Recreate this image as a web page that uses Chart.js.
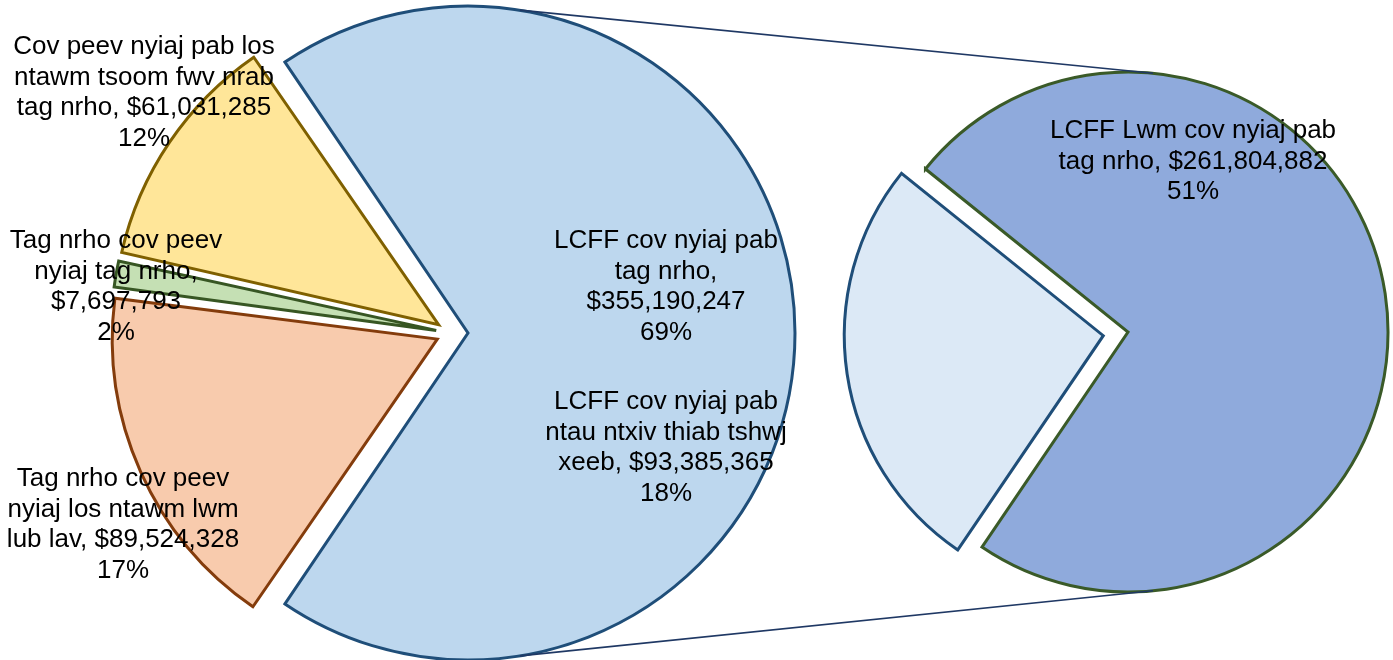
<!DOCTYPE html>
<html><head><meta charset="utf-8">
<script src="https://cdn.jsdelivr.net/npm/chart.js@4.4.1/dist/chart.umd.min.js"></script>
<style>
html,body{margin:0;padding:0;background:#fff;}
#wrap{position:relative;width:1393px;height:660px;background:#fff;}
#wrap canvas{position:absolute;left:0;top:0;}
</style></head><body>
<div id="wrap"><canvas id="mainPie" width="1393" height="660"></canvas><canvas id="detailPie" width="1393" height="660"></canvas></div>
<script>
// ---- data ----
const mainCategories = [
  'LCFF cov nyiaj pab tag nrho',
  'Tag nrho cov peev nyiaj los ntawm lwm lub lav',
  'Tag nrho cov peev nyiaj tag nrho',
  'Cov peev nyiaj pab los ntawm tsoom fwv nrab tag nrho'
];
const mainValues = [355190247, 89524328, 7697793, 61031285];
const mainPercents = ['69%', '17%', '2%', '12%'];

const detailCategories = [
  'LCFF cov nyiaj pab ntau ntxiv thiab tshwj xeeb',
  'LCFF Lwm cov nyiaj pab tag nrho'
];
const detailValues = [93385365, 261804882];
const detailPercents = ['18%', '51%'];

// label line wrapping ({v} = value, {p} = percent)
const mainLabelLines = [
  ['LCFF cov nyiaj pab', 'tag nrho,', '{v}', '{p}'],
  ['Tag nrho cov peev', 'nyiaj los ntawm lwm', 'lub lav, {v}', '{p}'],
  ['Tag nrho cov peev', 'nyiaj tag nrho,', '{v}', '{p}'],
  ['Cov peev nyiaj pab los', 'ntawm tsoom fwv nrab', 'tag nrho, {v}', '{p}']
];
const detailLabelLines = [
  ['LCFF cov nyiaj pab', 'ntau ntxiv thiab tshwj', 'xeeb, {v}', '{p}'],
  ['LCFF Lwm cov nyiaj pab', 'tag nrho, {v}', '{p}']
];

// ---- layout / style ----
const mainLabelPos = [[666, 241], [123, 479], [116, 241], [144, 47]];
const detailLabelPos = [[666, 402], [1193, 131]];
const mainFill = ['#BDD7EE', '#F8CBAD', '#C5E0B4', '#FFE699'];
const mainBorder = ['#1F4E79', '#843C0C', '#375623', '#7F6000'];
const mainShift = [17, 15, 15, 15];     // explosion distance in px
const mainRadii = [327, 325, 325, 325];
const detailFill = ['#DCE9F6', '#8FAADC'];
const detailBorder = ['#1F4E79', '#3A5A28'];
const detailShift = [25, 0];
const detailRadii = [259, 260];
const connectorDx = [52, 25];            // where series lines meet the arcs (px right of centre)
const FONT = '26px "Liberation Sans", Arial, sans-serif';
const LINE_H = 30.5;

const sum = a => a.reduce((s, v) => s + v, 0);
const mainRotation = 90 - 180 * mainValues[0] / sum(mainValues);
const detailCenterAngle = 171.5;
const detailRotation = 90 + detailCenterAngle - 180 * detailValues[0] / sum(detailValues);

function fmt(v) { return '$' + v.toLocaleString('en-US'); }
function drawLabel(ctx, lines, value, pct, pos) {
  ctx.save();
  ctx.font = FONT;
  ctx.fillStyle = '#000';
  ctx.textAlign = 'center';
  ctx.textBaseline = 'middle';
  lines.forEach((t, i) => {
    const s = t.replace('{v}', fmt(value)).replace('{p}', pct);
    ctx.fillText(s, pos[0], pos[1] + i * LINE_H);
  });
  ctx.restore();
}

// Chart.js translates an arc by offset/4 and enlarges it by (offset/4)*fix;
// set each arc's radius so the drawn slice has the intended radius.
function radiusFixPlugin(radii) {
  return {
    id: 'radiusFix',
    afterDatasetsUpdate(chart) {
      chart.getDatasetMeta(0).data.forEach((arc, i) => {
        const c = arc.endAngle - arc.startAngle;
        const fix = 1 - Math.sin(Math.min(Math.PI, c));
        const off = (arc.options.offset || 0) / 4;
        arc.outerRadius = radii[i] - off * fix;
      });
    }
  };
}

const baseOpts = {
  responsive: false,
  animation: false,
  events: [],
  plugins: { legend: { display: false }, tooltip: { enabled: false } }
};

const mainChart = new Chart(document.getElementById('mainPie'), {
  type: 'pie',
  data: {
    labels: mainCategories,
    datasets: [{
      data: mainValues,
      backgroundColor: mainFill,
      borderColor: mainBorder,
      borderWidth: 3,
      borderJoinStyle: 'miter',
      offset: mainShift.map(s => s * 4)
    }]
  },
  options: Object.assign({}, baseOpts, {
    rotation: mainRotation,
    radius: 325,
    layout: { padding: { left: 0, right: 491, top: 6, bottom: 0 } }
  }),
  plugins: [radiusFixPlugin(mainRadii)]
});

const overlayPlugin = {
  id: 'overlay',
  afterDraw(chart) {
    const ctx = chart.ctx;
    const la = mainChart.getDatasetMeta(0).data[0];
    const mid = (la.startAngle + la.endAngle) / 2;
    const off = (la.options.offset || 0) / 4;
    const lx = la.x + Math.cos(mid) * off, ly = la.y + Math.sin(mid) * off;
    const lr = mainRadii[0];
    const ra = chart.getDatasetMeta(0).data[1];
    const rr = detailRadii[1];
    const ldy = Math.sqrt(lr * lr - connectorDx[0] * connectorDx[0]);
    const rdy = Math.sqrt(rr * rr - connectorDx[1] * connectorDx[1]);
    ctx.save();
    ctx.strokeStyle = '#1F3864';
    ctx.lineWidth = 1.6;
    ctx.beginPath();
    ctx.moveTo(lx + connectorDx[0], ly - ldy);
    ctx.lineTo(ra.x + connectorDx[1], ra.y - rdy);
    ctx.moveTo(lx + connectorDx[0], ly + ldy);
    ctx.lineTo(ra.x + connectorDx[1], ra.y + rdy);
    ctx.stroke();
    ctx.restore();
    mainValues.forEach((v, i) => drawLabel(ctx, mainLabelLines[i], v, mainPercents[i], mainLabelPos[i]));
    detailValues.forEach((v, i) => drawLabel(ctx, detailLabelLines[i], v, detailPercents[i], detailLabelPos[i]));
  }
};

const detailChart = new Chart(document.getElementById('detailPie'), {
  type: 'pie',
  data: {
    labels: detailCategories,
    datasets: [{
      data: detailValues,
      backgroundColor: detailFill,
      borderColor: detailBorder,
      borderWidth: 3,
      borderJoinStyle: 'miter',
      offset: detailShift.map(s => s * 4)
    }]
  },
  options: Object.assign({}, baseOpts, {
    rotation: detailRotation,
    radius: 260,
    layout: { padding: { left: 863, right: 0, top: 4, bottom: 0 } }
  }),
  plugins: [radiusFixPlugin(detailRadii), overlayPlugin]
});
</script>
</body></html>
